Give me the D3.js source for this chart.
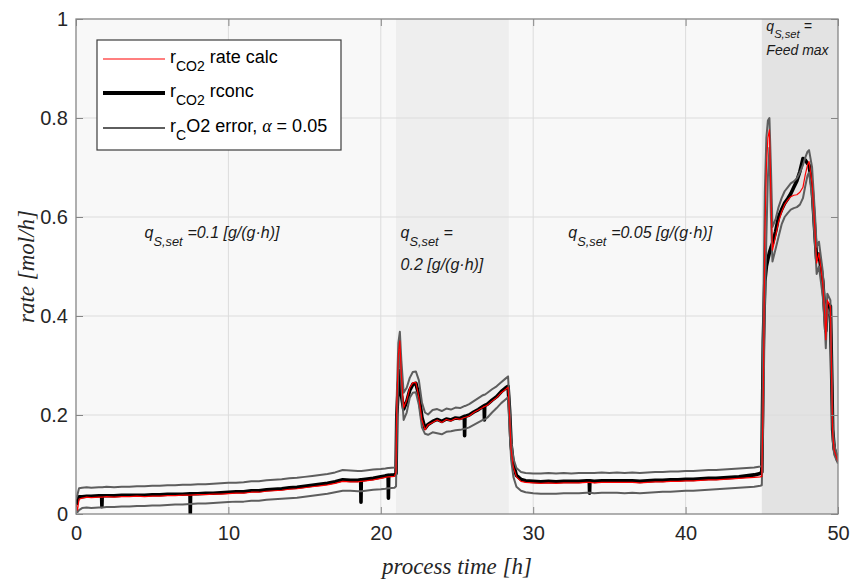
<!DOCTYPE html>
<html><head><meta charset="utf-8">
<script src="https://cdn.jsdelivr.net/npm/d3@7"></script>
<style>body{margin:0;background:#fff}</style>
</head><body><svg id="c" width="852" height="579"></svg>
<script>
// ---------------- data ----------------
const time = [
 0,0.1,0.2,0.4,0.7,1,1.5,1.68,1.7,1.72,
 2,2.5,3,3.5,4,4.5,5,5.5,6,6.5,
 7,7.48,7.5,7.52,8,8.5,9,9.5,10,10.5,
 11,11.5,12,12.5,13,13.5,14,14.5,15,15.5,
 16,16.5,17,17.5,18,18.5,18.68,18.7,18.72,19,
 19.5,20,20.3,20.48,20.5,20.52,20.9,
 21,21.05,21.15,21.25,21.35,21.5,21.7,21.9,22.1,22.3,
 22.5,22.7,22.9,23.1,23.4,23.7,24,24.3,24.6,24.9,
 25.2,25.48,25.5,25.52,25.8,26.1,26.4,26.7,26.78,26.8,
 26.82,27,27.3,27.6,27.9,28.2,28.35,28.45,28.55,28.7,
 28.9,29.2,29.5,
 30,30.5,31,31.5,32,32.5,33,33.5,33.68,33.7,
 33.72,34,34.5,35,35.5,36,36.5,37,37.5,38,
 38.5,39,39.5,40,40.5,41,41.5,42,42.5,43,
 43.5,44,44.5,44.9,
 45,45.1,45.2,45.3,45.4,45.5,45.6,45.7,45.9,46.1,
 46.3,46.5,46.7,46.9,47.1,47.3,47.5,47.7,47.85,48,
 48.1,48.3,48.5,48.6,48.75,49,49.15,49.2,49.3,49.5,
 49.6,49.65,49.75,50
];
const rateCalc = [
 0.020,0.008,0.030,0.032,0.034,0.033,0.034,0.034,0.034,0.034,
 0.035,0.034,0.035,0.035,0.036,0.035,0.036,0.036,0.037,0.037,
 0.038,0.038,0.038,0.038,0.039,0.039,0.040,0.040,0.041,0.042,
 0.042,0.044,0.044,0.046,0.047,0.048,0.050,0.051,0.053,0.055,
 0.057,0.059,0.062,0.066,0.065,0.065,0.066,0.066,0.066,0.067,
 0.069,0.072,0.074,0.075,0.075,0.075,0.076,
 0.085,0.220,0.320,0.350,0.280,0.215,0.230,0.255,0.265,0.266,
 0.235,0.190,0.170,0.180,0.185,0.190,0.185,0.191,0.188,0.193,
 0.191,0.195,0.195,0.195,0.198,0.205,0.210,0.215,0.217,0.217,
 0.217,0.220,0.228,0.235,0.245,0.252,0.256,0.200,0.130,0.095,
 0.075,0.066,0.064,
 0.063,0.062,0.063,0.062,0.063,0.063,0.063,0.064,0.064,0.064,
 0.064,0.063,0.064,0.064,0.064,0.064,0.064,0.063,0.064,0.065,
 0.065,0.066,0.066,0.067,0.067,0.068,0.069,0.069,0.070,0.071,
 0.072,0.073,0.074,0.075,
 0.076,0.250,0.560,0.700,0.760,0.776,0.640,0.533,0.560,0.590,
 0.610,0.625,0.634,0.641,0.644,0.645,0.650,0.660,0.685,0.705,
 0.712,0.668,0.567,0.507,0.527,0.466,0.392,0.352,0.432,0.418,
 0.250,0.163,0.129,0.106
];
const rateConc = [
 0.018,0.028,0.035,0.035,0.036,0.036,0.037,0.037,0.015,0.037,
 0.037,0.037,0.038,0.038,0.038,0.038,0.039,0.039,0.040,0.040,
 0.040,0.041,0.000,0.041,0.041,0.042,0.042,0.043,0.044,0.045,
 0.045,0.047,0.047,0.049,0.050,0.051,0.053,0.054,0.056,0.058,
 0.060,0.062,0.065,0.069,0.068,0.068,0.069,0.024,0.069,0.070,
 0.072,0.075,0.077,0.078,0.032,0.078,0.079,
 0.082,0.200,0.260,0.290,0.240,0.212,0.227,0.250,0.262,0.264,
 0.240,0.195,0.173,0.181,0.187,0.191,0.187,0.192,0.190,0.194,
 0.193,0.197,0.158,0.197,0.200,0.206,0.211,0.217,0.219,0.190,
 0.219,0.222,0.230,0.237,0.247,0.255,0.258,0.210,0.140,0.100,
 0.078,0.070,0.067,
 0.066,0.065,0.066,0.065,0.066,0.066,0.066,0.067,0.067,0.042,
 0.067,0.066,0.067,0.067,0.067,0.067,0.067,0.066,0.067,0.068,
 0.068,0.069,0.069,0.070,0.070,0.071,0.072,0.072,0.073,0.074,
 0.075,0.077,0.079,0.082,
 0.085,0.350,0.470,0.500,0.515,0.528,0.538,0.547,0.570,0.600,
 0.615,0.628,0.637,0.647,0.660,0.673,0.692,0.718,0.715,0.708,
 0.705,0.660,0.560,0.515,0.525,0.470,0.400,0.370,0.425,0.420,
 0.260,0.170,0.132,0.106
];
const errUpper = [
 0.030,0.040,0.052,0.053,0.054,0.053,0.054,0.054,0.054,0.054,
 0.055,0.054,0.055,0.055,0.056,0.056,0.057,0.057,0.058,0.058,
 0.059,0.059,0.059,0.059,0.060,0.060,0.061,0.062,0.063,0.063,
 0.064,0.066,0.066,0.068,0.069,0.070,0.072,0.073,0.075,0.077,
 0.079,0.081,0.084,0.089,0.088,0.087,0.087,0.087,0.087,0.088,
 0.090,0.091,0.092,0.093,0.093,0.093,0.094,
 0.097,0.240,0.345,0.368,0.310,0.245,0.255,0.275,0.287,0.288,
 0.270,0.225,0.205,0.201,0.210,0.212,0.208,0.213,0.211,0.215,
 0.214,0.218,0.218,0.218,0.222,0.228,0.234,0.240,0.241,0.241,
 0.241,0.245,0.252,0.258,0.266,0.274,0.278,0.220,0.150,0.112,
 0.093,0.085,0.083,
 0.082,0.082,0.083,0.082,0.083,0.082,0.083,0.083,0.083,0.083,
 0.083,0.083,0.084,0.083,0.084,0.083,0.084,0.083,0.084,0.085,
 0.085,0.086,0.086,0.087,0.087,0.088,0.089,0.089,0.090,0.091,
 0.092,0.093,0.094,0.096,
 0.098,0.400,0.650,0.760,0.795,0.800,0.700,0.580,0.595,0.620,
 0.638,0.652,0.660,0.668,0.672,0.678,0.690,0.705,0.720,0.732,
 0.735,0.700,0.600,0.540,0.550,0.490,0.415,0.380,0.445,0.432,
 0.270,0.180,0.140,0.110
];
const errLower = [
 0.010,0.004,0.008,0.012,0.013,0.012,0.013,0.013,0.013,0.013,
 0.014,0.014,0.015,0.015,0.016,0.016,0.017,0.017,0.018,0.019,
 0.019,0.020,0.020,0.020,0.021,0.021,0.022,0.023,0.024,0.025,
 0.025,0.027,0.027,0.029,0.030,0.031,0.032,0.033,0.035,0.037,
 0.039,0.041,0.044,0.047,0.047,0.046,0.046,0.046,0.046,0.047,
 0.049,0.050,0.051,0.052,0.052,0.052,0.053,
 0.056,0.170,0.290,0.330,0.260,0.190,0.205,0.235,0.245,0.246,
 0.220,0.175,0.162,0.160,0.165,0.163,0.161,0.166,0.167,0.169,
 0.170,0.172,0.172,0.172,0.175,0.180,0.185,0.190,0.191,0.191,
 0.191,0.195,0.205,0.214,0.224,0.232,0.236,0.170,0.110,0.075,
 0.055,0.047,0.044,
 0.042,0.041,0.041,0.041,0.042,0.042,0.042,0.043,0.043,0.043,
 0.043,0.042,0.043,0.043,0.043,0.042,0.043,0.042,0.043,0.044,
 0.045,0.045,0.046,0.047,0.047,0.048,0.049,0.050,0.051,0.052,
 0.053,0.054,0.055,0.057,
 0.058,0.200,0.420,0.560,0.680,0.740,0.600,0.510,0.535,0.560,
 0.585,0.600,0.608,0.615,0.618,0.620,0.625,0.638,0.662,0.684,
 0.690,0.640,0.540,0.485,0.500,0.440,0.370,0.335,0.415,0.400,
 0.230,0.150,0.120,0.102
];
const phaseStart = [21, 45];
const phaseEnd = [28.4, 50];
const xTicks = [0, 10, 20, 30, 40, 50];
const yTicks = [0, 0.2, 0.4, 0.6, 0.8, 1];
const yTickLabels = ["0", "0.2", "0.4", "0.6", "0.8", "1"];

// ---------------- drawing ----------------
const svg = d3.select("#c");
const x = d3.scaleLinear().domain([0, 50]).range([76, 838]);
const y = d3.scaleLinear().domain([0, 1]).range([514, 19]);
const SANS = "'Liberation Sans', Arial, sans-serif";
const SERIF = "'Liberation Serif', 'Times New Roman', serif";

svg.append("rect").attr("width", 852).attr("height", 579).attr("fill", "#fff");
svg.append("rect").attr("x", x(0)).attr("y", y(1))
  .attr("width", x(50) - x(0)).attr("height", y(0) - y(1)).attr("fill", "#f8f8f8");

const shades = ["#eeeeee", "#e3e3e3"];
phaseStart.forEach((s, i) => {
  svg.append("rect").attr("x", x(s)).attr("y", y(1))
    .attr("width", x(phaseEnd[i]) - x(s)).attr("height", y(0) - y(1))
    .attr("fill", shades[i]);
});

// grid
const grid = svg.append("g").attr("stroke", "#dcdcdc").attr("stroke-width", 1);
xTicks.slice(1, -1).forEach(t => grid.append("line")
  .attr("x1", x(t)).attr("x2", x(t)).attr("y1", y(0)).attr("y2", y(1)));
yTicks.slice(1, -1).forEach(t => grid.append("line")
  .attr("x1", x(0)).attr("x2", x(50)).attr("y1", y(t)).attr("y2", y(t)));

svg.append("clipPath").attr("id", "clip").append("rect")
  .attr("x", x(0)).attr("y", y(1)).attr("width", x(50) - x(0)).attr("height", y(0) - y(1));

const line = arr => d3.line().x((d, i) => x(time[i])).y((d) => y(d))(arr);
const plot = svg.append("g").attr("clip-path", "url(#clip)").attr("fill", "none")
  .attr("stroke-linejoin", "round");
plot.append("path").attr("d", line(rateConc)).attr("stroke", "#000").attr("stroke-width", 3.6);
plot.append("path").attr("d", line(errUpper)).attr("stroke", "#5e5e5e").attr("stroke-width", 2);
plot.append("path").attr("d", line(errLower)).attr("stroke", "#5e5e5e").attr("stroke-width", 2);
plot.append("path").attr("d", line(rateCalc)).attr("stroke", "#ff0000").attr("stroke-width", 1.2);

// axes
const axCol = "#868686";
function styleAxis(g) {
  g.select(".domain").remove();
  g.selectAll(".tick line").attr("stroke", axCol).attr("stroke-width", 1);
  g.selectAll(".tick text").attr("fill", "#262626").style("font-family", SANS).style("font-size", "20px");
}
svg.append("g").attr("transform", `translate(0,${y(0)})`)
  .call(d3.axisBottom(x).tickValues(xTicks).tickSize(-7).tickPadding(12).tickFormat(d3.format("d")))
  .call(styleAxis);
svg.append("g").attr("transform", `translate(${x(0)},0)`)
  .call(d3.axisLeft(y).tickValues(yTicks).tickSize(-7).tickPadding(8).tickFormat((d, i) => yTickLabels[i]))
  .call(styleAxis);
svg.append("g").attr("transform", `translate(0,${y(1)})`)
  .call(d3.axisTop(x).tickValues(xTicks).tickSize(-7).tickFormat(""))
  .call(styleAxis);
svg.append("g").attr("transform", `translate(${x(50)},0)`)
  .call(d3.axisRight(y).tickValues(yTicks).tickSize(-7).tickFormat(""))
  .call(styleAxis);
svg.append("rect").attr("x", x(0)).attr("y", y(1))
  .attr("width", x(50) - x(0)).attr("height", y(0) - y(1))
  .attr("fill", "none").attr("stroke", axCol).attr("stroke-width", 1.3);

// axis titles
svg.append("text").attr("x", (x(0) + x(50)) / 2).attr("y", 574)
  .attr("text-anchor", "middle").style("font-family", SERIF).style("font-style", "italic")
  .style("font-size", "23px").attr("fill", "#262626").text("process time [h]");
svg.append("text").attr("transform", `translate(34,${(y(0) + y(1)) / 2}) rotate(-90)`)
  .attr("text-anchor", "middle").style("font-family", SERIF).style("font-style", "italic")
  .style("font-size", "23px").attr("fill", "#262626").text("rate [mol/h]");

// annotations
function qLabel(px, py, fs, sub, rest) {
  const t = svg.append("text").attr("x", px).attr("y", py)
    .style("font-family", SANS).style("font-style", "italic").style("font-size", fs + "px").attr("fill", "#1a1a1a");
  t.append("tspan").text("q");
  t.append("tspan").attr("dy", fs * 0.5).style("font-size", (fs * 0.8) + "px").text(sub);
  t.append("tspan").attr("dy", -fs * 0.5).attr("dx", fs * 0.3).text(rest);
}
qLabel(x(4.5), 238, 16, "S,set", "=0.1 [g/(g·h)]");
qLabel(x(21.3), 238, 16, "S,set", "=");
svg.append("text").attr("x", x(21.3)).attr("y", 270).style("font-family", SANS).style("font-style", "italic")
  .style("font-size", "16px").attr("fill", "#1a1a1a").text("0.2 [g/(g·h)]");
qLabel(x(32.3), 238, 16, "S,set", "=0.05 [g/(g·h)]");
qLabel(x(45.3), 31, 14, "S,set", "=");
svg.append("text").attr("x", x(45.3)).attr("y", 55).style("font-family", SANS).style("font-style", "italic")
  .style("font-size", "14px").attr("fill", "#1a1a1a").text("Feed max");

// legend
const lg = svg.append("g");
lg.append("rect").attr("x", 97).attr("y", 40).attr("width", 244).attr("height", 110)
  .attr("fill", "#fff").attr("stroke", "#3c3c3c").attr("stroke-width", 1.2);
const legendItems = [
  {col: "#ff0000", w: 1.2, yy: 59, sub: "CO2", rest: " rate calc"},
  {col: "#000", w: 4, yy: 93, sub: "CO2", rest: " rconc"},
  {col: "#5e5e5e", w: 2, yy: 128, sub: "C", rest: "O2 error, "}
];
legendItems.forEach((it, i) => {
  lg.append("line").attr("x1", 103).attr("x2", 165).attr("y1", it.yy).attr("y2", it.yy)
    .attr("stroke", it.col).attr("stroke-width", it.w);
  const t = lg.append("text").attr("x", 170).attr("y", it.yy + 4)
    .style("font-family", SANS).style("font-size", "18px").attr("fill", "#000");
  t.append("tspan").text("r");
  t.append("tspan").attr("dy", 8).style("font-size", "14px").text(it.sub);
  t.append("tspan").attr("dy", -8).text(it.rest);
  if (i === 2) {
    t.append("tspan").style("font-family", SERIF).style("font-style", "italic").text("α");
    t.append("tspan").text(" = 0.05");
  }
});
</script>
</body></html>
